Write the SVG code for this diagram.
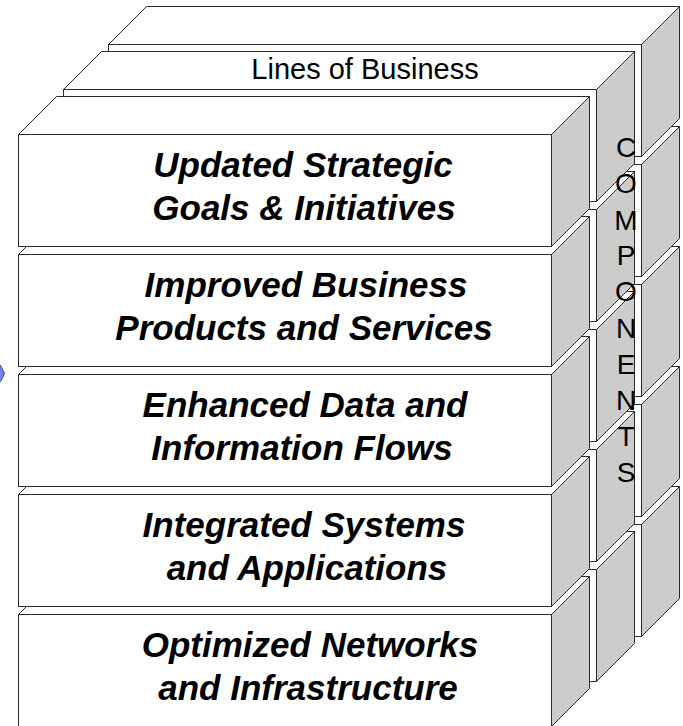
<svg xmlns="http://www.w3.org/2000/svg" width="683" height="726" viewBox="0 0 683 726">
  <style>
    .front { fill: #ffffff; stroke: #2a2a2a; stroke-width: 1; }
    .top { fill: #ffffff; stroke: #2a2a2a; stroke-width: 1; stroke-linejoin: miter; }
    .side { fill: #cccccc; stroke: #2a2a2a; stroke-width: 1; }
    .lbl { font-family: "Liberation Sans", Arial, sans-serif; font-size: 35px; font-weight: bold; font-style: italic; fill: #000000; text-anchor: middle; }
    .lob { font-family: "Liberation Sans", Arial, sans-serif; font-size: 29px; fill: #000000; text-anchor: middle; }
    .comp { font-family: "Liberation Sans", Arial, sans-serif; font-size: 28px; fill: #000000; text-anchor: middle; }
  </style>
  <defs>
    <g id="cube">
      <polygon class="side" points="533,0 571,-38 571,74 533,112"/>
      <polygon class="top" points="0,0 38,-38 571,-38 533,0"/>
      <rect class="front" x="0" y="0" width="533" height="112"/>
    </g>
  </defs>

  <g id="left-marker">
    <polygon points="-12,365.5 0.5,365.5 4.5,373.5 0.5,381.5 -12,381.5" fill="#6f86f2" stroke="#2f3d9c" stroke-width="1"/>
  </g>

  <!-- back layer -->
  <g id="back-5"><use href="#cube" x="108.5" y="524.5"/></g>
  <g id="back-4"><use href="#cube" x="108.5" y="404.5"/></g>
  <g id="back-3"><use href="#cube" x="108.5" y="284.5"/></g>
  <g id="back-2"><use href="#cube" x="108.5" y="164.5"/></g>
  <g id="back-1"><use href="#cube" x="108.5" y="44.5"/></g>

  <!-- middle layer -->
  <g id="middle-5"><use href="#cube" x="63.5" y="569.5"/></g>
  <g id="middle-4"><use href="#cube" x="63.5" y="449.5"/></g>
  <g id="middle-3"><use href="#cube" x="63.5" y="329.5"/></g>
  <g id="middle-2"><use href="#cube" x="63.5" y="209.5"/></g>
  <g id="middle-1">
    <use href="#cube" x="63.5" y="89.5"/>
    <text class="lob" x="365" y="79">Lines of Business</text>
  </g>

  <!-- front layer -->
  <g id="networks-infrastructure">
    <use href="#cube" x="18.5" y="614.5"/>
    <text class="lbl" x="310" y="657">Optimized Networks</text>
    <text class="lbl" x="308" y="699.5">and Infrastructure</text>
  </g>
  <g id="systems-applications">
    <use href="#cube" x="18.5" y="494.5"/>
    <text class="lbl" x="304" y="537">Integrated Systems</text>
    <text class="lbl" x="307" y="579.5">and Applications</text>
  </g>
  <g id="data-information">
    <use href="#cube" x="18.5" y="374.5"/>
    <text class="lbl" x="305" y="417">Enhanced Data and</text>
    <text class="lbl" x="302" y="459.5">Information Flows</text>
  </g>
  <g id="products-services">
    <use href="#cube" x="18.5" y="254.5"/>
    <text class="lbl" x="306" y="297">Improved Business</text>
    <text class="lbl" x="304" y="339.5">Products and Services</text>
  </g>
  <g id="strategic-goals">
    <use href="#cube" x="18.5" y="134.5"/>
    <text class="lbl" x="303" y="177">Updated Strategic</text>
    <text class="lbl" x="304" y="219.5">Goals &amp; Initiatives</text>
  </g>

  <g id="connectors"/>

  <g id="components-label">
    <text class="comp" x="626" y="157">C</text>
    <text class="comp" x="626" y="193">O</text>
    <text class="comp" x="626" y="229.5">M</text>
    <text class="comp" x="626" y="265">P</text>
    <text class="comp" x="626" y="301">O</text>
    <text class="comp" x="626" y="337.5">N</text>
    <text class="comp" x="626" y="374">E</text>
    <text class="comp" x="626" y="410">N</text>
    <text class="comp" x="626" y="446">T</text>
    <text class="comp" x="626" y="482">S</text>
  </g>
</svg>
